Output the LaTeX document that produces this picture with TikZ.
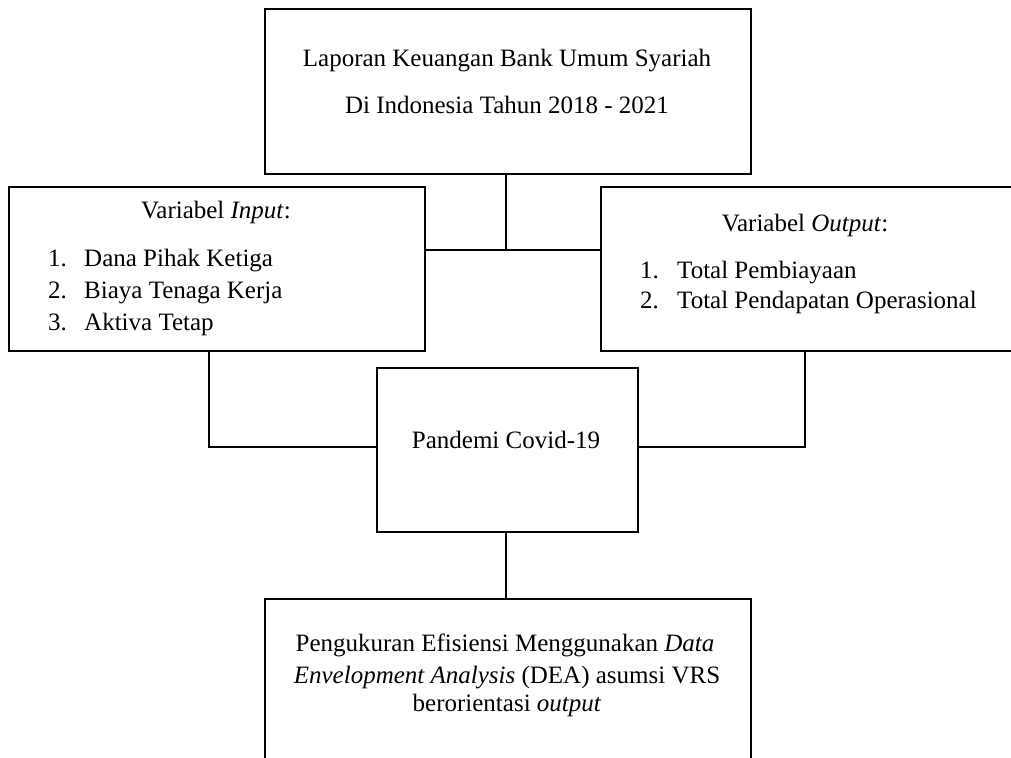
\documentclass[tikz,border=0pt]{standalone}
\usepackage{fontspec}
\setmainfont{Liberation Serif}
\begin{document}
\begin{tikzpicture}[x=1pt,y=-1pt,
  box/.style={draw=black, line width=1.6pt, rectangle, inner sep=0pt, anchor=north west},
  conn/.style={draw=black, line width=1.6pt},
  txt/.style={inner sep=0pt, anchor=mid, yshift=-6pt, font=\fontsize{25}{32}\selectfont},
  txtl/.style={inner sep=0pt, anchor=mid west, yshift=-6pt, font=\fontsize{25}{32}\selectfont}]
\useasboundingbox (0,0) rectangle (1011,757);
\clip (0,0) rectangle (1011,757);
% boxes
\node[box, minimum width=486pt, minimum height=165pt] (top) at (264,8) {};
\node[box, minimum width=416pt, minimum height=164pt] (inbox) at (8,186) {};
\node[box, minimum width=420pt, minimum height=164pt] (outbox) at (600,186) {};
\node[box, minimum width=261pt, minimum height=164pt] (mid) at (376,367) {};
\node[box, minimum width=486pt, minimum height=250pt] (bot) at (264,598) {};
% texts
\node[txt] (t1) at (507,58) {Laporan Keuangan Bank Umum Syariah};
\node[txt] (t2) at (507,105) {Di Indonesia Tahun 2018 - 2021};
\node[txt] (inh) at (216,210) {Variabel \textit{Input}:};
\node[txtl] (in1n) at (48,258) {1.};
\node[txtl] (in1) at (84,258) {Dana Pihak Ketiga};
\node[txtl] (in2n) at (48,290) {2.};
\node[txtl] (in2) at (84,290) {Biaya Tenaga Kerja};
\node[txtl] (in3n) at (48,322) {3.};
\node[txtl] (in3) at (84,322) {Aktiva Tetap};
\node[txt] (outh) at (805,223) {Variabel \textit{Output}:};
\node[txtl] (out1n) at (640,270) {1.};
\node[txtl] (out1) at (677,270) {Total Pembiayaan};
\node[txtl] (out2n) at (640,300) {2.};
\node[txtl] (out2) at (677,300) {Total Pendapatan Operasional};
\node[txt] (pan) at (506,440) {Pandemi Covid-19};
\node[txt] (b1) at (505,643) {Pengukuran Efisiensi Menggunakan \textit{Data}};
\node[txt] (b2) at (507,675) {\textit{Envelopment Analysis} (DEA) asumsi VRS};
\node[txt] (b3) at (507,703) {berorientasi \textit{output}};
% connectors
\coordinate (j1) at (506,250);
\coordinate (cl) at (209,447);
\coordinate (cr) at (805,447);
\draw[conn] (j1 |- top.south) -- (j1);
\draw[conn] (inbox.east |- j1) -- (outbox.west |- j1);
\draw[conn] (cl |- inbox.south) -- (cl) -- (mid.west |- cl);
\draw[conn] (cr |- outbox.south) -- (cr) -- (mid.east |- cr);
\draw[conn] (j1 |- mid.south) -- (j1 |- bot.north);
\end{tikzpicture}
\end{document}
